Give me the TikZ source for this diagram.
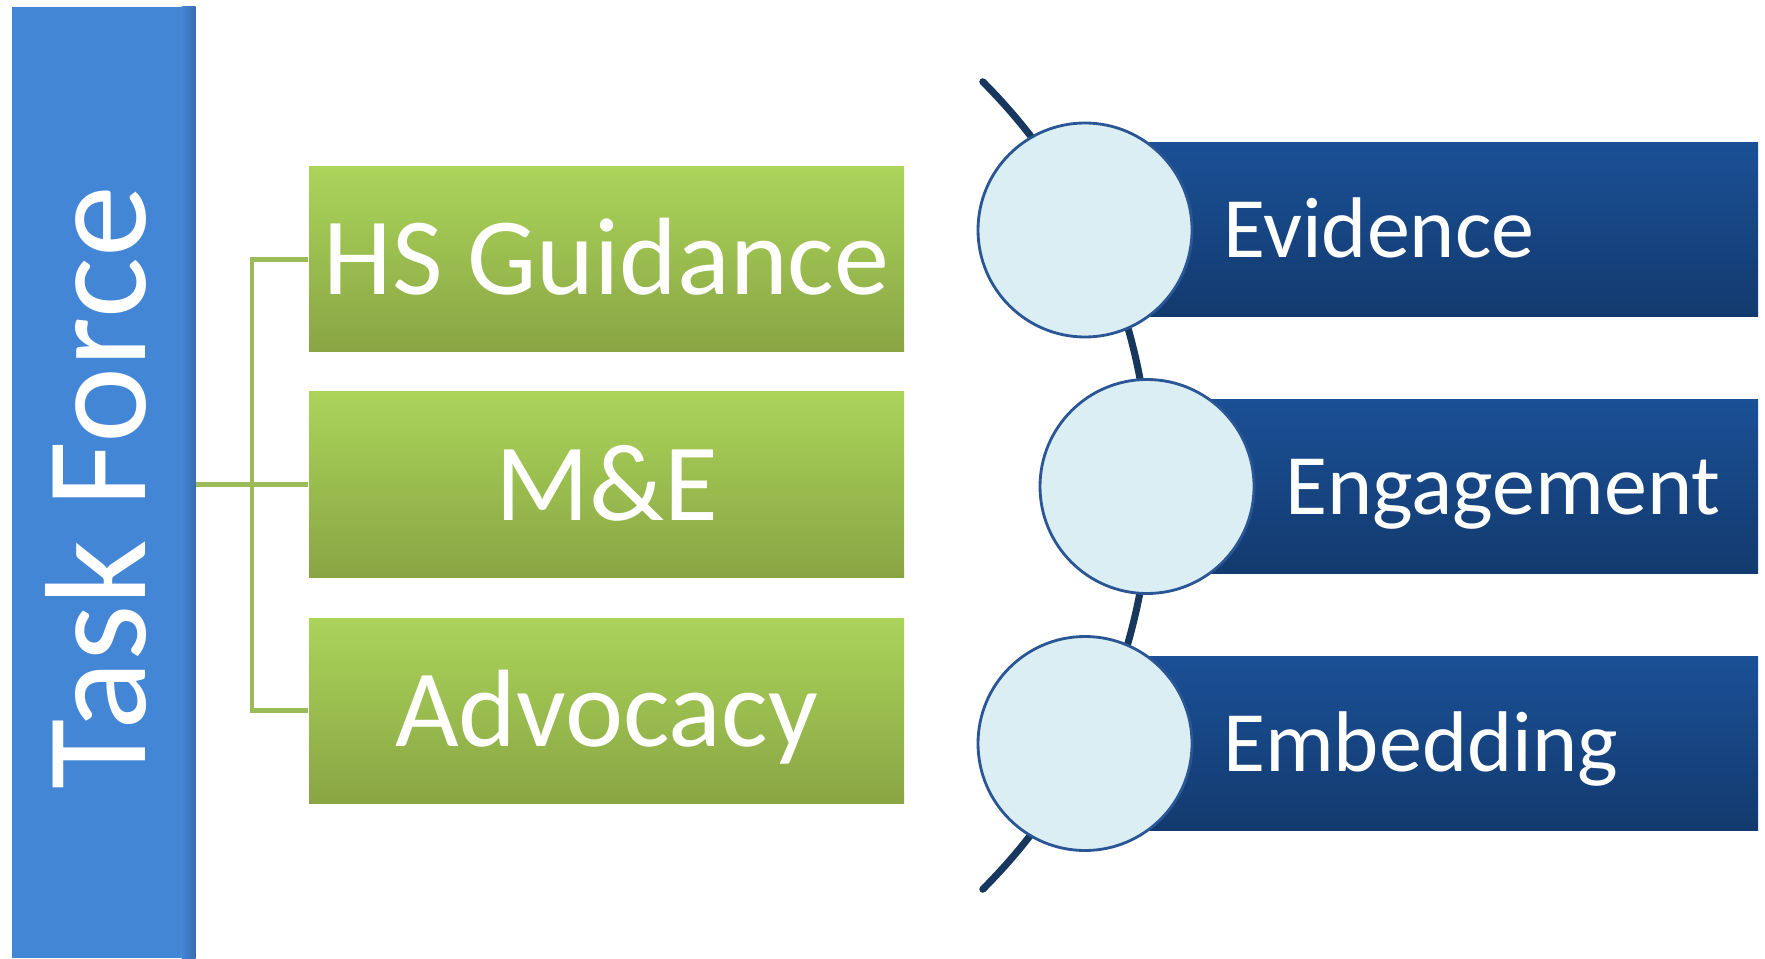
\documentclass[tikz,border=0pt]{standalone}
\usepackage{fontspec}
\setmainfont{Carlito}
\definecolor{tfblue}{HTML}{4486D6}
\definecolor{tfblueR}{HTML}{3A6CAE}
\definecolor{gTop}{HTML}{ABD45A}
\definecolor{gBot}{HTML}{89A544}
\definecolor{gLine}{HTML}{9BBB59}
\definecolor{nTop}{HTML}{1B5096}
\definecolor{nBot}{HTML}{123A6E}
\definecolor{cFill}{HTML}{DAEEF3}
\definecolor{cLine}{HTML}{2A5696}
\definecolor{arcC}{HTML}{17375E}
\begin{document}
\begin{tikzpicture}[
  bluebar/.style={rectangle, inner sep=0pt, fill=tfblue, minimum width=1.83cm, minimum height=9.51cm},
  greenbox/.style={rectangle, inner sep=0pt, top color=gTop, bottom color=gBot, minimum width=5.95cm, minimum height=1.85cm, text=white, font=\fontsize{31.3pt}{36pt}\selectfont, text height=0.71cm, text depth=0pt},
  navybar/.style={rectangle, inner sep=0pt, top color=nTop, bottom color=nBot, minimum height=1.74cm},
  disc/.style={circle, inner sep=0pt, minimum size=2.14cm, fill=cFill, draw=cLine, line width=0.8pt},
  navytext/.style={anchor=base west, inner sep=0pt, text=white, font=\fontsize{24.5pt}{29pt}\selectfont},
  conn/.style={draw=gLine, line width=1.4pt},
  arcline/.style={draw=arcC, line width=2pt, line cap=round}
]
\useasboundingbox (0,0) rectangle (17.65,9.58);
% Task Force bar
\node[bluebar] (tf) at (1.035,4.755) {};
\shade[left color=tfblue, right color=tfblueR] ([xshift=-0.14cm]tf.north east) rectangle (tf.south east);
\node[rotate=90, text=white, inner sep=0pt, font=\fontsize{41pt}{48pt}\selectfont] (tftext) at (0.96,4.70) {Task Force};
% green boxes
\node[greenbox] (hs) at (6.065,6.985) {HS Guidance};
\node[greenbox] (me) at (6.065,4.735) {M\&E};
\node[greenbox] (adv) at (6.065,2.475) {Advocacy};
% connectors
\coordinate (bus) at (2.52,0);
\draw[conn] (hs.west) -- (hs.west -| bus) -- (adv.west -| bus) -- (adv.west);
\draw[conn] (tf.east |- me.west) -- (me.west);
% arc
\coordinate (arcO) at (5.79,4.725);
\draw[arcline] (arcO) ++(45:5.71) arc[start angle=45, end angle=-45, radius=5.71];
% navy bars
\node[navybar, minimum width=6.73cm] (evb) at (14.215,7.28) {};
\node[navybar, minimum width=6.11cm] (enb) at (14.525,4.715) {};
\node[navybar, minimum width=6.73cm] (emb) at (14.215,2.145) {};
% circles
\node[disc] (evc) at (10.85,7.28) {};
\node[disc] (enc) at (11.47,4.715) {};
\node[disc] (emc) at (10.85,2.145) {};
% labels
\node[navytext] (evt) at ([xshift=0.29cm, yshift=-0.28cm]evc.east) {Evidence};
\node[navytext] (ent) at ([xshift=0.29cm, yshift=-0.28cm]enc.east) {Engagement};
\node[navytext] (emt) at ([xshift=0.29cm, yshift=-0.28cm]emc.east) {Embedding};
\end{tikzpicture}
\end{document}
